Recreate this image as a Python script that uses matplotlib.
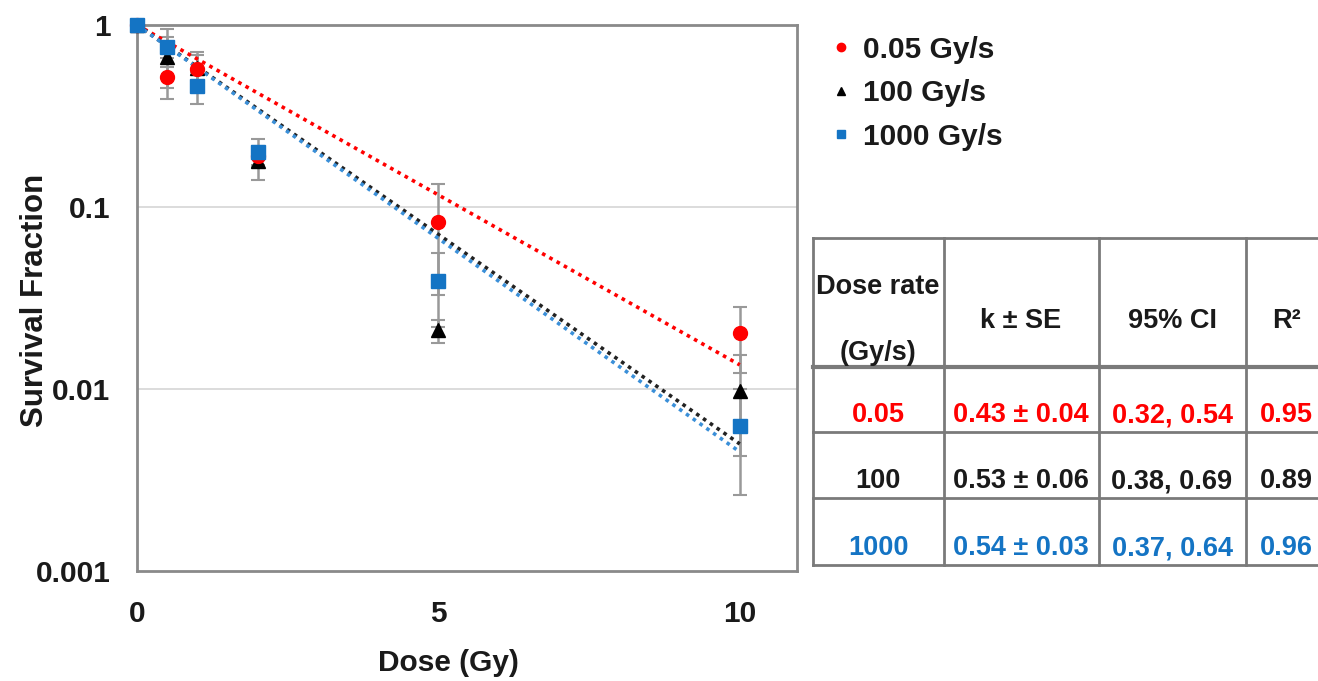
import numpy as np
import matplotlib
matplotlib.use("Agg")
import matplotlib.pyplot as plt

plt.rcParams['font.family'] = ['Liberation Sans', 'DejaVu Sans']
plt.rcParams['font.weight'] = 'bold'

# data
dose = [0, 0.5, 1, 2, 5, 10]
series = ["0.05 Gy/s", "100 Gy/s", "1000 Gy/s"]
sf_005 = [1.0, 0.52, 0.57, 0.19, 0.083, 0.0203]
err_005 = [0.0, 0.07, 0.14, 0.02, 0.05, 0.008]
sf_100 = [1.0, 0.67, 0.58, 0.178, 0.021, 0.0098]
err_100 = [0.0, 0.28, 0.10, 0.037, 0.003, 0.0055]
sf_1000 = [1.0, 0.76, 0.46, 0.20, 0.039, 0.0063]
err_1000 = [0.0, 0.10, 0.09, 0.035, 0.017, 0.0037]

# fit table
rate_labels = ["0.05", "100", "1000"]
k_values = [0.43, 0.53, 0.54]
k_text = ["0.43 \u00b1 0.04", "0.53 \u00b1 0.06", "0.54 \u00b1 0.03"]
ci_text = ["0.32, 0.54", "0.38, 0.69", "0.37, 0.64"]
r2_text = ["0.95", "0.89", "0.96"]

RED = "#FF0000"
BLACK = "#000000"
BLUE = "#1474C4"
colors = [RED, BLACK, BLUE]
line_colors = [RED, "#222222", "#3A8FD8"]
markers = ["o", "^", "s"]

W, H = 1318, 681
fig = plt.figure(figsize=(W / 100, H / 100), dpi=100)
ax = fig.add_axes([137 / W, 1 - 571 / H, (797 - 137) / W, (571 - 25) / H])

ax.set_yscale("log")
ax.set_xlim(0, 10.95)
ax.set_ylim(0.001, 1)

# fitted lines  S = exp(-k D)
xfit = np.linspace(0, 10, 200)
for k, c in zip(k_values, line_colors):
    ax.plot(xfit, np.exp(-k * xfit), ls=(0, (1, 1.3)), lw=2.6, color=c, zorder=3)

handles = {}
# draw order: black, red, blue (blue ends on top, red over black)
for idx in [1, 0, 2]:
    y = [sf_005, sf_100, sf_1000][idx]
    e = [err_005, err_100, err_1000][idx]
    c, m, lab = colors[idx], markers[idx], series[idx]
    ax.errorbar(dose, y, yerr=e, fmt='none', ecolor="#999999", elinewidth=1.8,
                capsize=5, capthick=1.5, zorder=2, clip_on=False)
    h, = ax.plot(dose, y, ls='none', marker=m, color=c, ms=10 if m != "^" else 10.5,
                 mec=c, zorder=4, clip_on=False, label=lab)
    handles[idx] = h

# axes look
for sp in ax.spines.values():
    sp.set_color("#8a8a8a")
    sp.set_linewidth(2)
ax.set_xticks([0, 5, 10])
ax.set_xticklabels(["0", "5", "10"])
ax.set_yticks([1, 0.1, 0.01, 0.001])
ax.set_yticklabels(["1", "0.1", "0.01", "0.001"])
ax.yaxis.set_minor_locator(matplotlib.ticker.NullLocator())
ax.tick_params(axis='both', length=0, labelsize=21.5, colors="#1a1a1a")
ax.tick_params(axis='x', pad=21)
ax.tick_params(axis='y', pad=19)
for yv in [0.1, 0.01]:
    ax.axhline(yv, color="#d9d9d9", lw=1.3, zorder=1)

ax.set_xlabel("Dose (Gy)", fontsize=21.5, fontweight='bold', color="#1a1a1a")
ax.xaxis.label.set_va('center')
ax.xaxis.set_label_coords((448 - 137) / 660, (571 - 663) / 546)
ax.set_ylabel("Survival Fraction", fontsize=22.5, fontweight='bold', color="#1a1a1a")
ax.yaxis.label.set_va('center')
ax.yaxis.set_label_coords((35 - 137) / 660, (571 - 300) / 546)

leg = fig.legend(handles=[handles[0], handles[1], handles[2]], loc='upper left',
                 bbox_to_anchor=(805 / W, 1 - 9 / H),
                 frameon=False, fontsize=21.5, markerscale=0.6, handlelength=0.6,
                 handletextpad=0.45, labelspacing=0.52)
for t in leg.get_texts():
    t.set_color("#1a1a1a")

# table drawn in pixel-like coordinates
tax = fig.add_axes([813 / W, 1 - 565 / H, (1400 - 813) / W, (565 - 238) / H])
tax.set_xlim(813, 1400)
tax.set_ylim(565, 238)
tax.axis('off')
col_edges = [813, 944, 1099, 1246, 1400]
row_edges = [238, 367, 432, 498, 565]
gcol = "#7a7a7a"
for xe in col_edges[:-1]:
    tax.plot([xe, xe], [row_edges[0], row_edges[-1]], color=gcol, lw=2, clip_on=False)
for i, ye in enumerate(row_edges):
    tax.plot([col_edges[0], col_edges[-1]], [ye, ye], color=gcol,
             lw=3 if i == 1 else 2, clip_on=False)

fs = 19.5
tc = "#1a1a1a"
col_cent = [878, 1021, 1172, 1286]
tax.text(col_cent[0], 287, "Dose rate", ha='center', va='center', fontsize=fs, color=tc)
tax.text(col_cent[0], 353, "(Gy/s)", ha='center', va='center', fontsize=fs, color=tc)
tax.text(col_cent[1], 321, "k \u00b1 SE", ha='center', va='center', fontsize=fs, color=tc)
tax.text(col_cent[2], 321, "95% CI", ha='center', va='center', fontsize=fs, color=tc)
tax.text(col_cent[3], 321, "R\u00b2", ha='center', va='center', fontsize=fs, color=tc)
for i in range(3):
    yc = row_edges[i + 2] - 17
    c = colors[i] if i != 1 else tc
    for j, txt in enumerate([rate_labels[i], k_text[i], ci_text[i], r2_text[i]]):
        tax.text(col_cent[j], yc, txt, ha='center', va='center', fontsize=fs, color=c)

fig.savefig("out.png", dpi=100)
